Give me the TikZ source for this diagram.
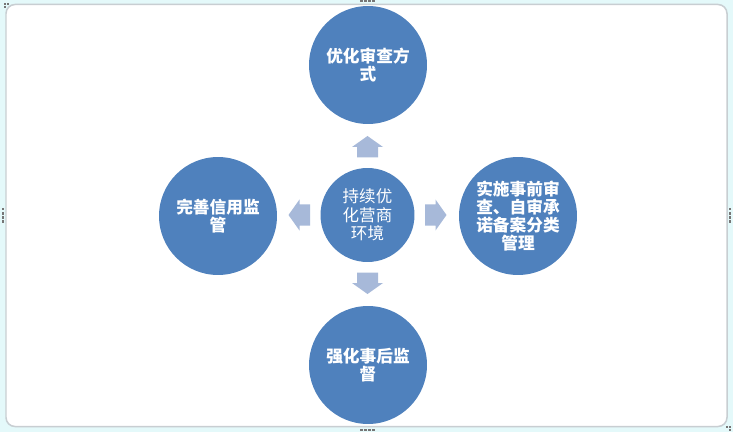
\documentclass[tikz,border=0pt]{standalone}
\usepackage{fontspec}
\usepackage{tikz}
\newfontfamily\cjk{Noto Sans CJK SC}
\definecolor{ballblue}{RGB}{79,129,189}
\definecolor{arrblue}{RGB}{167,185,217}
\definecolor{framecyan}{RGB}{228,249,250}
\definecolor{framegray}{RGB}{200,206,210}
\definecolor{handlegray}{RGB}{118,118,118}
\tikzset{
  ball/.style={circle, fill=ballblue, minimum size=2.36cm, inner sep=0pt,
    text=white, align=center, font=\cjk\bfseries\fontsize{9.5}{10.3}\selectfont},
  hubball/.style={circle, fill=ballblue, minimum size=1.88cm, inner sep=0pt,
    text=white, align=center, font=\cjk\fontsize{9.4}{10.6}\selectfont},
  flowarr/.style={fill=arrblue},
  handle/.style={fill=handlegray}
}
\begin{document}
\begin{tikzpicture}[x=0.02cm, y=-0.02cm]
  \useasboundingbox (0,0) rectangle (733,432);
  % frame
  \fill[framecyan] (0,0) rectangle (733,432);
  \draw[framegray, fill=white, line width=0.03cm, rounded corners=0.18cm] (6,4.5) rectangle (727,426.5);
  \foreach \hx/\hy in {4/3,7/3,4/6, 726/426,729/426,729/429} {
    \fill[handle] (\hx,\hy) rectangle ++(2,2);
  }
  \foreach \k in {0,1,2,3} {
    \fill[handle] (360+\k*4,0.5) rectangle ++(2.5,2);
    \fill[handle] (360+\k*4,428.5) rectangle ++(2.5,2);
    \fill[handle] (2,208+\k*4) rectangle ++(2,2.5);
    \fill[handle] (729,208+\k*4) rectangle ++(2,2.5);
  }

  % circles
  \node[hubball] (hub) at (367.5,215) {持续优\\化营商\\环境};
  \node[ball] (topc) at (368,65) {优化审查方\\式};
  \node[ball] (leftc) at (218,216) {完善信用监\\管};
  \node[ball] (rightc) at (518,216) {实施事前审\\查、自审承\\诺备案分类\\管理};
  \node[ball] (botc) at (368,365) {强化事后监\\督};

  % block arrows round the hub
  \foreach \ang in {0,90,180,270} {
    \fill[flowarr, shift={(hub.center)}, rotate=\ang]
      (57.5,-10.5) -- (68,-10.5) -- (68,-15.5) -- (79,0) -- (68,15.5) -- (68,10.5) -- (57.5,10.5) -- cycle;
  }
\end{tikzpicture}
\end{document}
